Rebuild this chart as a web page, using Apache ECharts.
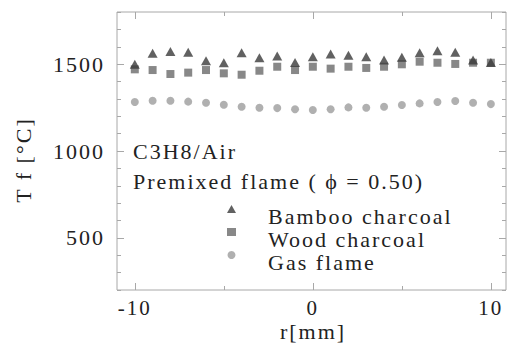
<!DOCTYPE html>
<html><head><meta charset="utf-8">
<script src="https://cdn.jsdelivr.net/npm/echarts@6/dist/echarts.min.js"></script>
<style>html,body{margin:0;padding:0;background:#fff}#c{width:509px;height:350px;letter-spacing:2px}</style>
</head><body><div id="c"></div><script>
// ---- data ----
const rValues = [-10,-9,-8,-7,-6,-5,-4,-3,-2,-1,0,1,2,3,4,5,6,7,8,9,10];
const bamboo = [1500,1562,1572,1568,1520,1508,1566,1537,1547,1510,1543,1558,1551,1543,1524,1539,1566,1577,1568,1524,1510];
const wood   = [1470,1466,1443,1451,1466,1447,1439,1462,1485,1466,1485,1474,1485,1478,1485,1499,1514,1508,1501,1508,1508];
const gas    = [1282,1289,1289,1284,1278,1266,1255,1249,1247,1240,1236,1240,1251,1249,1255,1265,1274,1282,1288,1278,1270];
const seriesNames = ['Bamboo charcoal','Wood charcoal','Gas flame'];
const xMajorTicks = [-10,0,10];
const xMinorTicks = [-5,5];
const yMajorTicks = [500,1000,1500];
const annotations = ['C3H8/Air','Premixed flame ( ϕ = 0.50)'];
const xTitle = 'r[mm]';
const yTitle = 'T f [°C]';

// ---- chart ----
const FONT = 'Liberation Serif';
const TXT = '#222';
const LINE = '#a8a8a8';
const xMin = -11, xMax = 10.85, yMin = 200, yMax = 1800, yStep = 100;
const pair = (arr) => rValues.map((r,i)=>[r, arr[i]]);
const plain = (v) => String(v);

function xAx(pos, ticks, len, labels) {
  return {type:'value', position:pos, min:xMin, max:xMax, axisLine:{show:false, onZero:false}, splitLine:{show:false},
    axisTick:{show:true, inside:true, length:len, customValues:ticks, lineStyle:{color:LINE}},
    axisLabel: labels ? {customValues:labels, formatter:plain, margin:7, fontSize:21, lineHeight:21, fontFamily:FONT, color:TXT} : {show:false}};
}
function yAx(pos, opt, len, labels) {
  return Object.assign({type:'value', position:pos, min:yMin, max:yMax, axisLine:{show:false, onZero:false}, splitLine:{show:false},
    axisTick:{show:true, inside:true, length:len, lineStyle:{color:LINE}},
    axisLabel: labels ? {customValues:labels, formatter:plain, margin:12, fontSize:22, fontFamily:FONT, color:TXT} : {show:false}}, opt);
}

const chart = echarts.init(document.getElementById('c'), null, {renderer:'svg'});
chart.setOption({
  animation:false,
  grid:{left:117, right:3, top:12, bottom:60, show:true, borderColor:LINE, borderWidth:1, backgroundColor:'transparent'},
  xAxis:[
    xAx('bottom', xMajorTicks, 7, xMajorTicks),
    xAx('bottom', xMinorTicks, 4, null),
    xAx('top', xMajorTicks, 7, null),
    xAx('top', xMinorTicks, 4, null)
  ],
  yAxis:[
    yAx('left', {axisTick:{show:true, inside:true, length:7, customValues:yMajorTicks, lineStyle:{color:LINE}}}, 7, yMajorTicks),
    yAx('left', {interval:yStep}, 4, null),
    yAx('right', {axisTick:{show:true, inside:true, length:7, customValues:yMajorTicks, lineStyle:{color:LINE}}}, 7, null),
    yAx('right', {interval:yStep}, 4, null)
  ],
  legend:[
    {orient:'vertical', left:227, top:205, padding:0, itemWidth:9, itemHeight:8, itemGap:15,
     formatter:()=>'', textStyle:{fontSize:8, lineHeight:8},
     data:[{name:seriesNames[0], icon:'triangle'},{name:seriesNames[1], icon:'rect'},{name:seriesNames[2], icon:'circle'}]},
    {orient:'vertical', left:263, top:205, padding:0, itemWidth:0, itemHeight:0, itemGap:0,
     textStyle:{fontSize:22, lineHeight:23, fontFamily:FONT, color:TXT},
     data:seriesNames}
  ],
  graphic:[
    {type:'text', x:133, y:151, style:{text:annotations[0], font:'22px "Liberation Serif"', fill:TXT, verticalAlign:'middle'}},
    {type:'text', x:133, y:181, style:{text:annotations[1], font:'22px "Liberation Serif"', fill:TXT, verticalAlign:'middle'}},
    {type:'text', x:23, y:160, rotation:Math.PI/2, style:{text:yTitle, font:'22px "Liberation Serif"', fill:TXT, align:'center', verticalAlign:'middle'}},
    {type:'text', x:313, y:331, style:{text:xTitle, font:'22px "Liberation Serif"', fill:TXT, align:'center', verticalAlign:'middle'}}
  ],
  series:[
    {name:seriesNames[0], type:'scatter', symbol:'triangle', symbolSize:[10,9], itemStyle:{color:'#3a3a3a'}, data:pair(bamboo), z:3},
    {name:seriesNames[1], type:'scatter', symbol:'rect', symbolSize:8, itemStyle:{color:'#6a6a6a'}, data:pair(wood), z:2},
    {name:seriesNames[2], type:'scatter', symbol:'circle', symbolSize:8, itemStyle:{color:'#9c9c9c'}, data:pair(gas), z:1}
  ]
});
</script></body></html>
